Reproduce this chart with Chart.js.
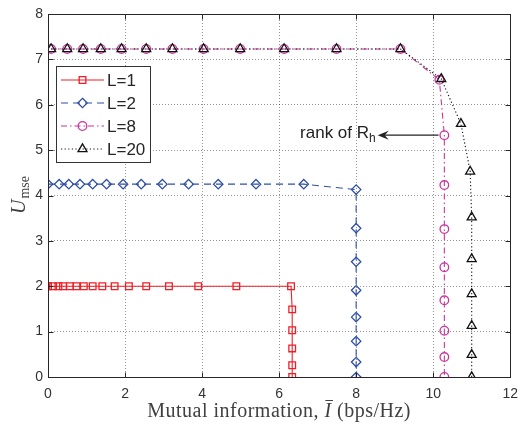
<!DOCTYPE html>
<html><head><meta charset="utf-8">
<script src="https://cdn.jsdelivr.net/npm/chart.js@4.4.1/dist/chart.umd.min.js"></script>
<style>html,body{margin:0;padding:0;background:#fff;}</style>
</head><body>
<canvas id="c" width="527" height="426" style="width:527px;height:426px;display:block"></canvas>
<script>
// ---- data ----
const xTicks = [0, 2, 4, 6, 8, 10, 12];
const yTicks = [0, 1, 2, 3, 4, 5, 6, 7, 8];
const seriesLabels = ['L=1', 'L=2', 'L=8', 'L=20'];

const l1X = [0, 0.13, 0.27, 0.39, 0.57, 0.74, 0.93, 1.16, 1.41, 1.73, 2.10, 2.55, 3.14, 3.90, 4.89, 6.31, 6.34, 6.34, 6.34, 6.34, 6.34];
const l1Y = [2, 2, 2, 2, 2, 2, 2, 2, 2, 2, 2, 2, 2, 2, 2, 2, 1.49, 1.03, 0.63, 0.26, 0];

const l2X = [0, 0.29, 0.54, 0.83, 1.16, 1.52, 1.95, 2.42, 2.97, 3.65, 4.42, 5.40, 6.64, 8.0, 8.0, 8.0, 8.0, 8.0, 8.0, 8.0, 8.0];
const l2Y = [4.25, 4.25, 4.25, 4.25, 4.25, 4.25, 4.25, 4.25, 4.25, 4.25, 4.25, 4.25, 4.25, 4.13, 3.28, 2.54, 1.91, 1.32, 0.79, 0.33, 0];

const l8X = [0.08, 0.50, 0.91, 1.37, 1.91, 2.55, 3.23, 4.04, 4.99, 6.13, 7.49, 9.15, 10.16, 10.29, 10.29, 10.29, 10.29, 10.29, 10.29, 10.29, 10.29];
const l8Y = [7.23, 7.23, 7.23, 7.23, 7.23, 7.23, 7.23, 7.23, 7.23, 7.23, 7.23, 7.23, 6.55, 5.33, 4.23, 3.26, 2.42, 1.69, 1.02, 0.44, 0];

const l20X = [0.08, 0.50, 0.91, 1.37, 1.91, 2.55, 3.23, 4.04, 4.99, 6.13, 7.49, 9.15, 10.21, 10.72, 10.96, 11.0, 11.0, 11.0, 11.0, 11.0, 11.0];
const l20Y = [7.23, 7.23, 7.23, 7.23, 7.23, 7.23, 7.23, 7.23, 7.23, 7.23, 7.23, 7.23, 6.57, 5.58, 4.53, 3.52, 2.60, 1.83, 1.13, 0.49, 0];

const xTitleA = 'Mutual information, ';
const xTitleSym = 'I';
const xTitleB = ' (bps/Hz)';
const yTitleMain = 'U';
const yTitleSub = 'mse';
const annotText = 'rank of R';
const annotSub = 'h';
const annotY = 5.33, annotFromX = 10.14, annotToX = 8.56;

// ---- styles ----
const styles = [
  {color: '#ee1f26', dash: [], point: 'rect', r: 4.7},
  {color: '#2f4fa6', dash: [7, 5], point: 'rectRot', r: 4.7},
  {color: '#c8359b', dash: [6, 3, 1.5, 3], point: 'circle', r: 4.3},
  {color: '#111111', dash: [1.2, 2.4], point: 'triangle', r: 5.2}
];
const zip = (xs, ys) => xs.map((x, i) => ({x: x, y: ys[i]}));
const allData = [zip(l1X, l1Y), zip(l2X, l2Y), zip(l8X, l8Y), zip(l20X, l20Y)];

const datasets = allData.map((d, i) => ({
  label: seriesLabels[i],
  data: d,
  showLine: true,
  borderColor: styles[i].color,
  borderWidth: 1.1,
  borderDash: styles[i].dash,
  pointStyle: styles[i].point,
  pointRadius: styles[i].r,
  pointHoverRadius: styles[i].r,
  pointBorderColor: styles[i].color,
  pointBackgroundColor: 'rgba(0,0,0,0)',
  pointBorderWidth: 1.3,
  tension: 0,
  fill: false,
  order: 3 - i
}));

function marker(ctx, style, x, y, r, color) {
  ctx.save();
  ctx.strokeStyle = color; ctx.lineWidth = 1.3; ctx.setLineDash([]);
  ctx.beginPath();
  if (style === 'rect') {
    const s = Math.SQRT1_2 * r; ctx.rect(x - s, y - s, 2 * s, 2 * s);
  } else if (style === 'rectRot') {
    ctx.moveTo(x, y - r); ctx.lineTo(x + r, y); ctx.lineTo(x, y + r); ctx.lineTo(x - r, y); ctx.closePath();
  } else if (style === 'circle') {
    ctx.arc(x, y, r, 0, Math.PI * 2);
  } else {
    for (let k = 0; k < 3; k++) {
      const a = k * 2 * Math.PI / 3;
      const px = x + Math.sin(a) * r, py = y - Math.cos(a) * r;
      if (k === 0) ctx.moveTo(px, py); else ctx.lineTo(px, py);
    }
    ctx.closePath();
  }
  ctx.stroke();
  ctx.restore();
}

const deco = {
  id: 'deco',
  afterDraw(chart) {
    const ctx = chart.ctx, xs = chart.scales.x, ys = chart.scales.y;
    const L = Math.round(xs.getPixelForValue(0)) + 0.5, R = Math.round(xs.getPixelForValue(12)) + 0.5;
    const T = Math.round(ys.getPixelForValue(8)) + 0.5, B = Math.round(ys.getPixelForValue(0)) + 0.5;
    ctx.save();
    // box
    ctx.strokeStyle = '#262626'; ctx.lineWidth = 1; ctx.setLineDash([]);
    ctx.strokeRect(L, T, R - L, B - T);
    // inward ticks
    ctx.beginPath();
    xTicks.forEach(v => {
      const p = Math.round(xs.getPixelForValue(v)) + 0.5;
      ctx.moveTo(p, B); ctx.lineTo(p, B - 5);
      ctx.moveTo(p, T); ctx.lineTo(p, T + 5);
    });
    yTicks.forEach(v => {
      const p = Math.round(ys.getPixelForValue(v)) + 0.5;
      ctx.moveTo(L, p); ctx.lineTo(L + 5, p);
      ctx.moveTo(R, p); ctx.lineTo(R - 5, p);
    });
    ctx.stroke();

    // legend
    const lx = 56.5, ly = 66.5, lw = 94, lh = 96;
    ctx.fillStyle = '#fff'; ctx.fillRect(lx, ly, lw, lh);
    ctx.strokeStyle = '#333'; ctx.strokeRect(lx, ly, lw, lh);
    ctx.font = '17px "Liberation Sans", Arial, sans-serif';
    ctx.textBaseline = 'middle'; ctx.textAlign = 'left';
    seriesLabels.forEach((lab, i) => {
      const y = 80 + i * 23;
      ctx.save();
      ctx.strokeStyle = styles[i].color; ctx.lineWidth = 1.1; ctx.setLineDash(styles[i].dash);
      ctx.beginPath(); ctx.moveTo(61, y); ctx.lineTo(104, y); ctx.stroke();
      ctx.restore();
      marker(ctx, styles[i].point, 82.5, y, styles[i].r, styles[i].color);
      ctx.fillStyle = '#262626';
      ctx.fillText(lab, 107, y + 1);
    });

    // annotation arrow
    const ay = ys.getPixelForValue(annotY);
    const tip = xs.getPixelForValue(annotToX), from = xs.getPixelForValue(annotFromX);
    ctx.strokeStyle = '#222'; ctx.lineWidth = 1.2;
    ctx.beginPath(); ctx.moveTo(from, ay); ctx.lineTo(tip + 6, ay); ctx.stroke();
    ctx.fillStyle = '#222';
    ctx.beginPath();
    ctx.moveTo(tip, ay); ctx.lineTo(tip + 11, ay - 4.5); ctx.lineTo(tip + 7, ay); ctx.lineTo(tip + 11, ay + 4.5); ctx.closePath();
    ctx.fill();
    ctx.textAlign = 'right'; ctx.textBaseline = 'alphabetic';
    ctx.font = '12px "Liberation Sans", Arial, sans-serif';
    const hw = ctx.measureText(annotSub).width;
    ctx.fillText(annotSub, tip - 2, ay + 6.5);
    ctx.font = '17px "Liberation Sans", Arial, sans-serif';
    ctx.fillText(annotText, tip - 2 - hw, ay + 2.5);

    // x title
    ctx.fillStyle = '#404040';
    ctx.textAlign = 'left'; ctx.textBaseline = 'alphabetic';
    try { ctx.letterSpacing = '0.5px'; } catch (e) {}
    const fN = '20px "Liberation Serif", "Times New Roman", serif';
    const fI = 'italic 20px "Liberation Serif", "Times New Roman", serif';
    ctx.font = fN; const wA = ctx.measureText(xTitleA).width, wB = ctx.measureText(xTitleB).width;
    ctx.font = fI; const wS = ctx.measureText(xTitleSym).width;
    const cx = (xs.left + xs.right) / 2, by = 417;
    let sx = cx - (wA + wS + wB) / 2;
    ctx.font = fN; ctx.fillText(xTitleA, sx, by); sx += wA;
    ctx.font = fI; ctx.fillText(xTitleSym, sx, by);
    ctx.strokeStyle = '#404040'; ctx.lineWidth = 1;
    ctx.beginPath(); ctx.moveTo(sx + 1, by - 16.5); ctx.lineTo(sx + wS + 1.5, by - 16.5); ctx.stroke();
    sx += wS;
    ctx.font = fN; ctx.fillText(xTitleB, sx, by);
    try { ctx.letterSpacing = '0px'; } catch (e) {}

    // y title
    ctx.save();
    ctx.translate(25, (ys.top + ys.bottom) / 2);
    ctx.rotate(-Math.PI / 2);
    ctx.font = fI; const wU = ctx.measureText(yTitleMain).width;
    const fS = '14px "Liberation Serif", "Times New Roman", serif';
    ctx.font = fS; const wM = ctx.measureText(yTitleSub).width;
    let tx = -(wU + wM) / 2;
    ctx.font = fI; ctx.fillText(yTitleMain, tx, 0);
    ctx.font = fS; ctx.fillText(yTitleSub, tx + wU + 1, 3.5);
    ctx.restore();

    ctx.restore();
  }
};

new Chart(document.getElementById('c'), {
  type: 'scatter',
  data: {datasets: datasets},
  options: {
    responsive: false,
    animation: false,
    devicePixelRatio: 1,
    layout: {padding: {top: 14, right: 15, left: 0, bottom: 0}},
    plugins: {legend: {display: false}, tooltip: {enabled: false}, title: {display: false}},
    scales: {
      x: {
        type: 'linear', min: 0, max: 12,
        afterBuildTicks: s => { s.ticks = xTicks.map(v => ({value: v})); },
        afterFit: s => { s.height = 49; },
        ticks: {color: '#333', font: {family: '"Liberation Sans", Arial, sans-serif', size: 14}, padding: 9, maxRotation: 0},
        grid: {color: 'rgba(0,0,0,0.42)', lineWidth: 1, drawTicks: false},
        border: {display: false, dash: [1, 2]}
      },
      y: {
        type: 'linear', min: 0, max: 8,
        afterBuildTicks: s => { s.ticks = yTicks.map(v => ({value: v})); },
        afterFit: s => { s.width = 48; },
        ticks: {color: '#333', font: {family: '"Liberation Sans", Arial, sans-serif', size: 14}, padding: 5},
        grid: {color: 'rgba(0,0,0,0.42)', lineWidth: 1, drawTicks: false},
        border: {display: false, dash: [1, 2]}
      }
    }
  },
  plugins: [deco]
});
</script>
</body></html>
